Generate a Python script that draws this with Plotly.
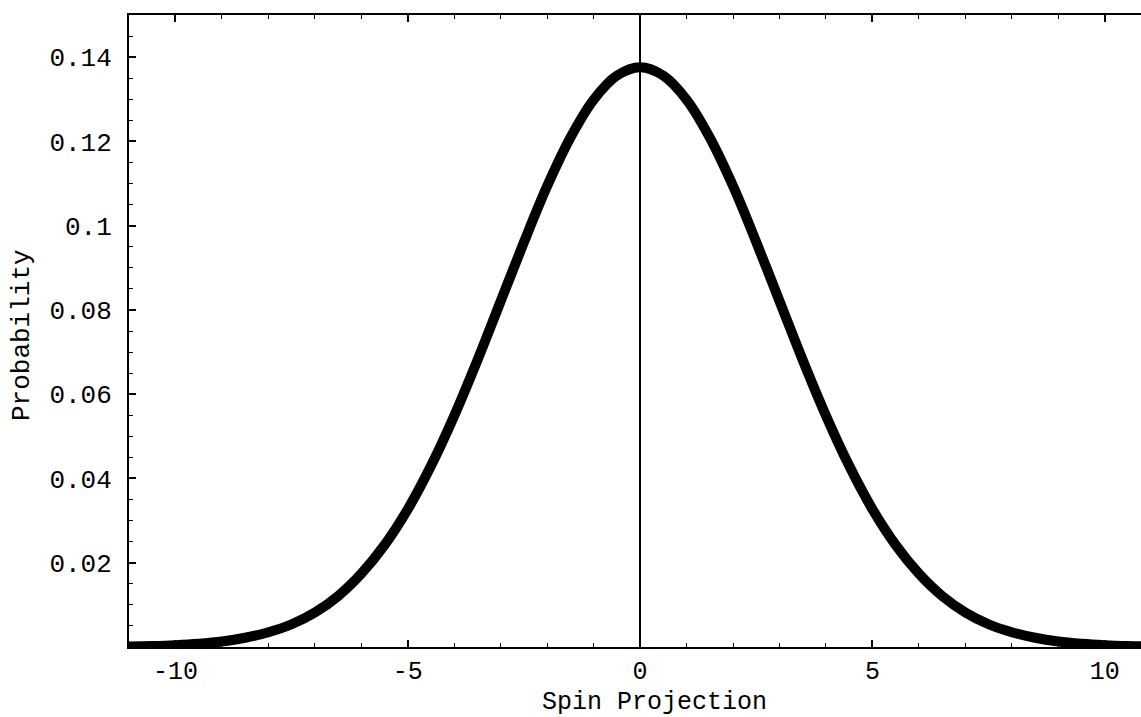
import plotly.graph_objects as go

# Spin projection values and read-off probabilities
spin = [-11, -10.5, -10, -9.5, -9, -8.5, -8, -7.5, -7, -6.5, -6, -5.5, -5,
        -4.5, -4, -3.5, -3, -2.5, -2, -1.5, -1, -0.5, 0,
        0.5, 1, 1.5, 2, 2.5, 3, 3.5, 4, 4.5, 5, 5.5, 6, 6.5, 7, 7.5, 8,
        8.5, 9, 9.5, 10, 10.5, 11]
prob = [0.00013, 0.00024, 0.00044, 0.00077, 0.0013, 0.0022, 0.0035, 0.0054,
        0.0082, 0.0121, 0.0174, 0.0242, 0.0327, 0.0430, 0.0549, 0.0681,
        0.0821, 0.0961, 0.1094, 0.1209, 0.1299, 0.1356, 0.1376,
        0.1356, 0.1299, 0.1209, 0.1094, 0.0961, 0.0821, 0.0681, 0.0549,
        0.0430, 0.0327, 0.0242, 0.0174, 0.0121, 0.0082, 0.0054, 0.0035,
        0.0022, 0.0013, 0.00077, 0.00044, 0.00024, 0.00013]

x_ticks = [-10, -5, 0, 5, 10]
y_ticks = [0.02, 0.04, 0.06, 0.08, 0.1, 0.12, 0.14]
y_tick_text = ["0.02", "0.04", "0.06", "0.08", "0.1", "0.12", "0.14"]

FONT = "Liberation Mono, Courier New, monospace"
FS = 26
FSX = 25

fig = go.Figure()
fig.add_trace(go.Scatter(
    x=spin, y=prob, mode="lines",
    line=dict(color="black", width=10, shape="spline", smoothing=1.0),
    showlegend=False, hoverinfo="skip",
))

fig.update_layout(
    width=1141, height=717,
    margin=dict(l=129, r=0, t=15, b=70),
    paper_bgcolor="white", plot_bgcolor="white",
    font=dict(family=FONT, size=FS, color="black"),
    showlegend=False,
    xaxis=dict(
        range=[-11, 10.78],
        tickvals=x_ticks, ticktext=[str(v) for v in x_ticks],
        ticks="inside", ticklen=7, tickwidth=1.5, tickcolor="black",
        minor=dict(dtick=1, ticks="inside", ticklen=4, tickwidth=1, tickcolor="black"),
        showline=True, linecolor="black", linewidth=2, mirror="allticks",
        showgrid=False, zeroline=True, zerolinecolor="black", zerolinewidth=2,
        tickfont=dict(family=FONT, size=FSX, color="black"),
        ticklabelstandoff=0,
    ),
    yaxis=dict(
        range=[0, 0.15],
        tickvals=y_ticks, ticktext=y_tick_text,
        ticks="inside", ticklen=7, tickwidth=1.5, tickcolor="black",
        minor=dict(dtick=0.005, tick0=0, ticks="inside", ticklen=4, tickwidth=1, tickcolor="black"),
        showline=True, linecolor="black", linewidth=2, mirror=False,
        showgrid=False, zeroline=False,
        tickfont=dict(family=FONT, size=FS, color="black"),
        ticklabelstandoff=10,
    ),
    annotations=[
        dict(text="Spin Projection", xref="paper", yref="paper",
             x=(654 - 129) / (1141 - 129), y=-(702 - 647) / (647 - 15),
             xanchor="center", yanchor="middle", showarrow=False,
             font=dict(family=FONT, size=FSX, color="black")),
        dict(text="Probability", xref="paper", yref="paper",
             x=-(129 - 22) / (1141 - 129), y=(647 - 335) / (647 - 15),
             xanchor="center", yanchor="middle", textangle=-90, showarrow=False,
             font=dict(family=FONT, size=FS, color="black")),
    ],
)

fig.write_html("out.html", config={"displayModeBar": False},
               post_script="document.body.style.margin='0';")
